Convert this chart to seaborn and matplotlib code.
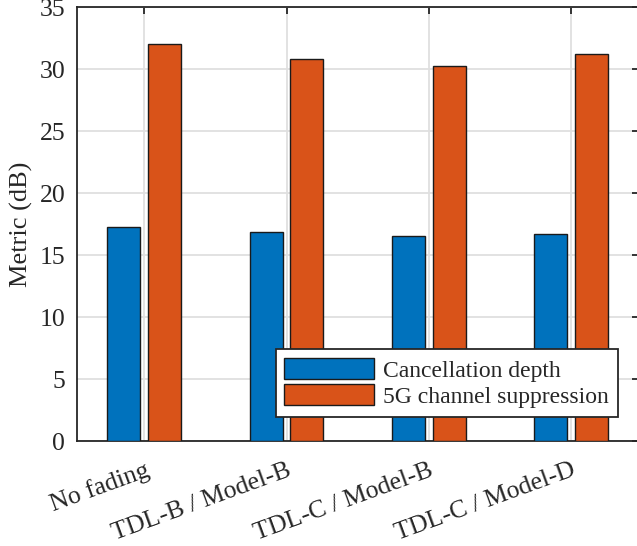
import matplotlib
matplotlib.use("Agg")
import matplotlib.pyplot as plt
import seaborn as sns
import pandas as pd

categories = ["No fading", "TDL-B / Model-B", "TDL-C / Model-B", "TDL-C / Model-D"]
cancellation_depth = [17.25, 16.9, 16.57, 16.68]
suppression_5g = [32.05, 30.85, 30.25, 31.2]
series_names = ["Cancellation depth", "5G channel suppression"]
yticks = [0, 5, 10, 15, 20, 25, 30, 35]

df = pd.DataFrame({
    "cat": categories * 2,
    "val": cancellation_depth + suppression_5g,
    "series": [series_names[0]] * 4 + [series_names[1]] * 4,
})

sns.set_style("white")
plt.rcParams["font.family"] = ["Liberation Serif", "DejaVu Serif"]

fig = plt.figure(figsize=(6.37, 5.46), dpi=100)
ax = fig.add_axes([0.1209, 0.1923, 0.8823, 0.7942])

palette = {series_names[0]: "#0072BD", series_names[1]: "#D95319"}
sns.barplot(data=df, x="cat", y="val", hue="series", order=categories,
            hue_order=series_names, palette=palette, width=0.572, gap=0.19,
            edgecolor="#1a1a1a", linewidth=1.0, saturation=1, ax=ax, zorder=3)

ax.set_xlim(-0.473, 3.477)
ax.set_ylim(0, 35)
ax.set_yticks(yticks)
ax.set_yticklabels([str(t) for t in yticks], fontsize=18.5)
ax.set_xticks(range(len(categories)))
ax.set_xticklabels(categories, rotation=20, ha="right", va="top",
                   rotation_mode="anchor", fontsize=18.5)
ax.set_xlabel("")
ax.set_ylabel("Metric (dB)", fontsize=19, labelpad=5)

ax.grid(True, color="#dfdfdf", linewidth=1.3, zorder=0)
ax.set_axisbelow(True)
for s in ax.spines.values():
    s.set_color("#262626")
    s.set_linewidth(1.3)
ax.tick_params(axis="both", direction="in", length=5, width=1.3, color="#262626",
               top=True, right=True, labelcolor="#262626")
ax.tick_params(axis="y", pad=8.5)
ax.tick_params(axis="x", pad=13)

leg = ax.legend(loc="lower right", bbox_to_anchor=(0.970, 0.2363),
                bbox_transform=fig.transFigure, fontsize=17, frameon=True,
                fancybox=False, edgecolor="#262626", framealpha=1,
                handlelength=3.8, handleheight=1.0, borderpad=0.38,
                labelspacing=0.12, handletextpad=0.38, borderaxespad=0)
leg.get_frame().set_linewidth(1.3)

fig.savefig("out.png", dpi=100)
